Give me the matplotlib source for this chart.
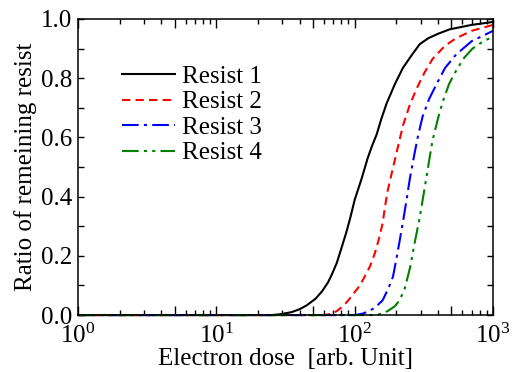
import matplotlib
matplotlib.use("Agg")
import matplotlib.pyplot as plt
from matplotlib.ticker import FixedLocator, FuncFormatter, MultipleLocator

# remaining-resist curves
dose_1 = [1, 25, 29, 35, 40, 45, 52, 58, 64, 68, 74, 80, 87, 93, 100, 112, 124, 133, 144,
          155, 170, 195, 223, 260, 295, 340, 400, 485, 700, 1000]
ratio_1 = [0, 0, 0.003, 0.01, 0.02, 0.033, 0.055, 0.08, 0.11, 0.135, 0.175, 0.225, 0.28, 0.33,
           0.39, 0.46, 0.53, 0.57, 0.61, 0.66, 0.715, 0.78, 0.835, 0.88, 0.915, 0.935, 0.95,
           0.965, 0.98, 0.99]

dose_2 = [1, 60, 69, 75, 82, 90, 97, 105, 115, 129, 140, 150, 159, 166, 173, 183, 194, 208,
          223, 250, 280, 320, 365, 450, 540, 700, 1000]
ratio_2 = [0, 0, 0.005, 0.015, 0.03, 0.05, 0.07, 0.09, 0.12, 0.165, 0.21, 0.26, 0.31, 0.37,
           0.42, 0.47, 0.52, 0.58, 0.64, 0.71, 0.765, 0.82, 0.865, 0.91, 0.935, 0.96, 0.98]

dose_3 = [1, 100, 114, 125, 140, 159, 175, 189, 200, 211, 224, 237, 250, 264, 285, 309, 345,
          390, 450, 540, 700, 1000]
ratio_3 = [0, 0, 0.005, 0.012, 0.025, 0.05, 0.09, 0.13, 0.19, 0.25, 0.32, 0.39, 0.46, 0.52,
           0.6, 0.67, 0.73, 0.78, 0.835, 0.88, 0.925, 0.96]

dose_4 = [1, 140, 159, 175, 195, 211, 230, 251, 270, 295, 315, 331, 350, 365, 400, 432, 480,
          547, 620, 710, 850, 1000]
ratio_4 = [0, 0, 0.005, 0.015, 0.03, 0.05, 0.09, 0.16, 0.24, 0.33, 0.41, 0.47, 0.54, 0.59,
           0.665, 0.72, 0.78, 0.83, 0.87, 0.90, 0.925, 0.94]

labels = ["Resist 1", "Resist 2", "Resist 3", "Resist 4"]
colors = ["black", "#ff0000", "#0000ff", "#008000"]
styles = ["-", (0, (4, 2.5)), (0, (8, 2.5, 1.5, 2.5)), (0, (8, 2.5, 1.5, 2.5, 1.5, 2.5))]

plt.rcParams["font.family"] = ["Liberation Serif", "DejaVu Serif"]
plt.rcParams["mathtext.fontset"] = "custom"
plt.rcParams["mathtext.rm"] = "Liberation Serif"
plt.rcParams["mathtext.it"] = "Liberation Serif:italic"
plt.rcParams["font.size"] = 18

fig = plt.figure(figsize=(5.15, 3.72), dpi=100)
ax = fig.add_axes([0.1515, 0.153, 0.806, 0.796])

series = [(dose_1, ratio_1), (dose_2, ratio_2), (dose_3, ratio_3), (dose_4, ratio_4)]
for (x, y), lab, c, ls in zip(series, labels, colors, styles):
    ax.plot(x, y, color=c, linestyle=ls, linewidth=1.5, label=lab, clip_on=False)

ax.set_xscale("log")
ax.set_xlim(1, 1000)
ax.set_ylim(0, 1)

# decades labelled, 5s get a long tick too
ax.xaxis.set_major_locator(FixedLocator([1, 5, 10, 50, 100, 500, 1000]))
ax.xaxis.set_major_formatter(FuncFormatter(
    lambda v, p: {1: "$10^0$", 10: "$10^1$", 100: "$10^2$", 1000: "$10^3$"}.get(int(round(v)), "")))
ax.xaxis.set_minor_locator(FixedLocator([m * d for d in (1, 10, 100) for m in (2, 3, 4, 6, 7, 8, 9)]))
ax.xaxis.set_minor_formatter(FuncFormatter(lambda v, p: ""))

ax.yaxis.set_major_locator(MultipleLocator(0.2))
ax.yaxis.set_minor_locator(MultipleLocator(0.1))
ax.yaxis.set_major_formatter(FuncFormatter(lambda v, p: f"{v:.1f}"))

ax.tick_params(which="both", direction="in", top=True, right=True, width=1.0)
ax.tick_params(axis="x", which="major", length=6.5, pad=6)
ax.tick_params(axis="x", which="minor", length=3.5)
ax.tick_params(axis="y", which="both", length=4.5, pad=4)
for s in ax.spines.values():
    s.set_linewidth(1.1)

ax.set_xlabel("Electron dose  [arb. Unit]", labelpad=0)
ax.set_ylabel("Ratio of remeining resist", labelpad=3)

ax.legend(loc="upper left", bbox_to_anchor=(0.106, 0.843), frameon=False, borderpad=0,
          handlelength=2.1, handletextpad=0.3, labelspacing=0.12, borderaxespad=0)

fig.savefig("out.png", dpi=100)
